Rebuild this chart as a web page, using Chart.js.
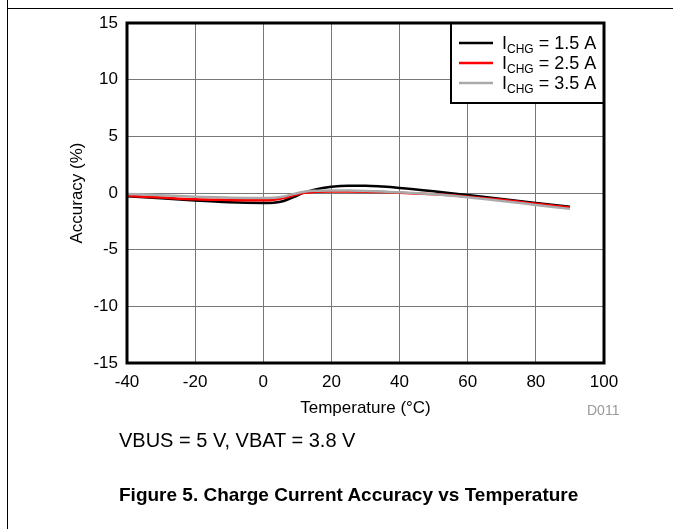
<!DOCTYPE html>
<html><head><meta charset="utf-8">
<script src="https://cdn.jsdelivr.net/npm/chart.js@4.4.0/dist/chart.umd.min.js"></script>
<style>
html,body{margin:0;padding:0;background:#fff;}
#wrap{position:relative;width:673px;height:529px;overflow:hidden;font-family:"Liberation Sans",Arial,sans-serif;color:#000;}
#c{position:absolute;left:0;top:0;}
.vl{position:absolute;left:7px;top:0;width:1px;height:529px;background:#000;}
.hl{position:absolute;left:7px;top:8px;width:666px;height:1px;background:#000;}
#cond{position:absolute;left:119px;top:429px;font-size:20px;white-space:nowrap;}
#cap{position:absolute;left:119px;top:484px;font-size:19px;font-weight:bold;white-space:nowrap;}
#code{position:absolute;left:587px;top:402px;font-size:14px;color:#999;}
</style></head>
<body>
<div id="wrap">
<canvas id="c" width="673" height="529"></canvas>
<div class="vl"></div><div class="hl"></div>
<div id="code">D011</div>
<div id="cond">VBUS = 5 V, VBAT = 3.8 V</div>
<div id="cap">Figure 5. Charge Current Accuracy vs Temperature</div>
</div>
<script>
const temps = [-40,-30,-20,-10,-5,0,3,6,9,12,15,20,25,30,35,40,50,60,70,80,90];
const acc15 = [-0.28,-0.47,-0.66,-0.82,-0.87,-0.88,-0.85,-0.7,-0.35,0.05,0.3,0.55,0.65,0.65,0.57,0.45,0.15,-0.18,-0.52,-0.88,-1.22];
const acc25 = [-0.25,-0.4,-0.55,-0.62,-0.65,-0.65,-0.6,-0.45,-0.2,0.02,0.1,0.13,0.13,0.12,0.08,0.02,-0.12,-0.32,-0.6,-0.95,-1.28];
const acc35 = [-0.08,-0.2,-0.33,-0.41,-0.44,-0.45,-0.42,-0.3,-0.08,0.12,0.2,0.22,0.21,0.18,0.13,0.07,-0.12,-0.38,-0.7,-1.05,-1.4];
const currents = ['1.5 A','2.5 A','3.5 A'];
const xTicks = [-40,-20,0,20,40,60,80,100];
const yTicks = [-15,-10,-5,0,5,10,15];

const FONT = '"Liberation Sans", Arial, sans-serif';
const pts = arr => temps.map((t,i)=>({x:t,y:arr[i]}));

const legendFrame = {
  id:'legendFrame',
  afterDraw(chart){
    const {ctx, chartArea:a} = chart;
    ctx.save();
    const W = 153, H = 80;
    const L = a.right - W, T = a.top;
    ctx.fillStyle = '#fff'; ctx.fillRect(L,T,W,H);
    ctx.strokeStyle = '#000'; ctx.lineWidth = 2; ctx.strokeRect(L,T,W,H);
    chart.data.datasets.forEach((ds,i)=>{
      const y = T + 20 + i*20;
      ctx.strokeStyle = ds.borderColor; ctx.lineWidth = 2.5;
      ctx.beginPath(); ctx.moveTo(L+8,y); ctx.lineTo(L+42,y); ctx.stroke();
      ctx.fillStyle = '#000'; ctx.textBaseline = 'alphabetic'; ctx.textAlign = 'left';
      let x = L + 51;
      ctx.font = '18px ' + FONT; ctx.fillText('I', x, y+6); x += ctx.measureText('I').width;
      ctx.font = '12px ' + FONT; ctx.fillText('CHG', x, y+10); x += ctx.measureText('CHG').width;
      ctx.font = '18px ' + FONT; ctx.fillText(' = ' + currents[i], x, y+6);
    });
    ctx.strokeStyle = '#000'; ctx.lineWidth = 3;
    ctx.strokeRect(a.left, a.top, a.right-a.left, a.bottom-a.top);
    ctx.restore();
  }
};

new Chart(document.getElementById('c'), {
  type:'line',
  data:{datasets:[
    {label:'ICHG = '+currents[0], data:pts(acc15), borderColor:'#000000', borderWidth:2.5, order:2},
    {label:'ICHG = '+currents[1], data:pts(acc25), borderColor:'#ff0000', borderWidth:2.5, order:1},
    {label:'ICHG = '+currents[2], data:pts(acc35), borderColor:'#aaaaaa', borderWidth:2.5, order:0}
  ]},
  options:{
    responsive:false, animation:false,
    layout:{padding:{left:0,top:23,right:69,bottom:107}},
    elements:{point:{radius:0}, line:{cubicInterpolationMode:'monotone', fill:false}},
    plugins:{legend:{display:false}, tooltip:{enabled:false}},
    scales:{
      x:{type:'linear', min:-40, max:100,
        afterBuildTicks:s=>{s.ticks = xTicks.map(v=>({value:v}));},
        afterFit:s=>{s.height = 59;},
        ticks:{color:'#000', font:{family:FONT,size:17}, padding:9, maxRotation:0},
        grid:{color:'#777', lineWidth:1, drawTicks:false},
        border:{display:false},
        title:{display:true, text:'Temperature (°C)', color:'#000', font:{family:FONT,size:17}, padding:{top:0,bottom:3}}
      },
      y:{type:'linear', min:-15, max:15,
        afterBuildTicks:s=>{s.ticks = yTicks.map(v=>({value:v}));},
        afterFit:s=>{s.width = 127;},
        ticks:{color:'#000', font:{family:FONT,size:17}, padding:9},
        grid:{color:'#777', lineWidth:1, drawTicks:false},
        border:{display:false},
        title:{display:true, text:'Accuracy (%)', color:'#000', font:{family:FONT,size:17}, padding:{top:67,bottom:0}}
      }
    }
  },
  plugins:[legendFrame]
});
</script>
</body></html>
